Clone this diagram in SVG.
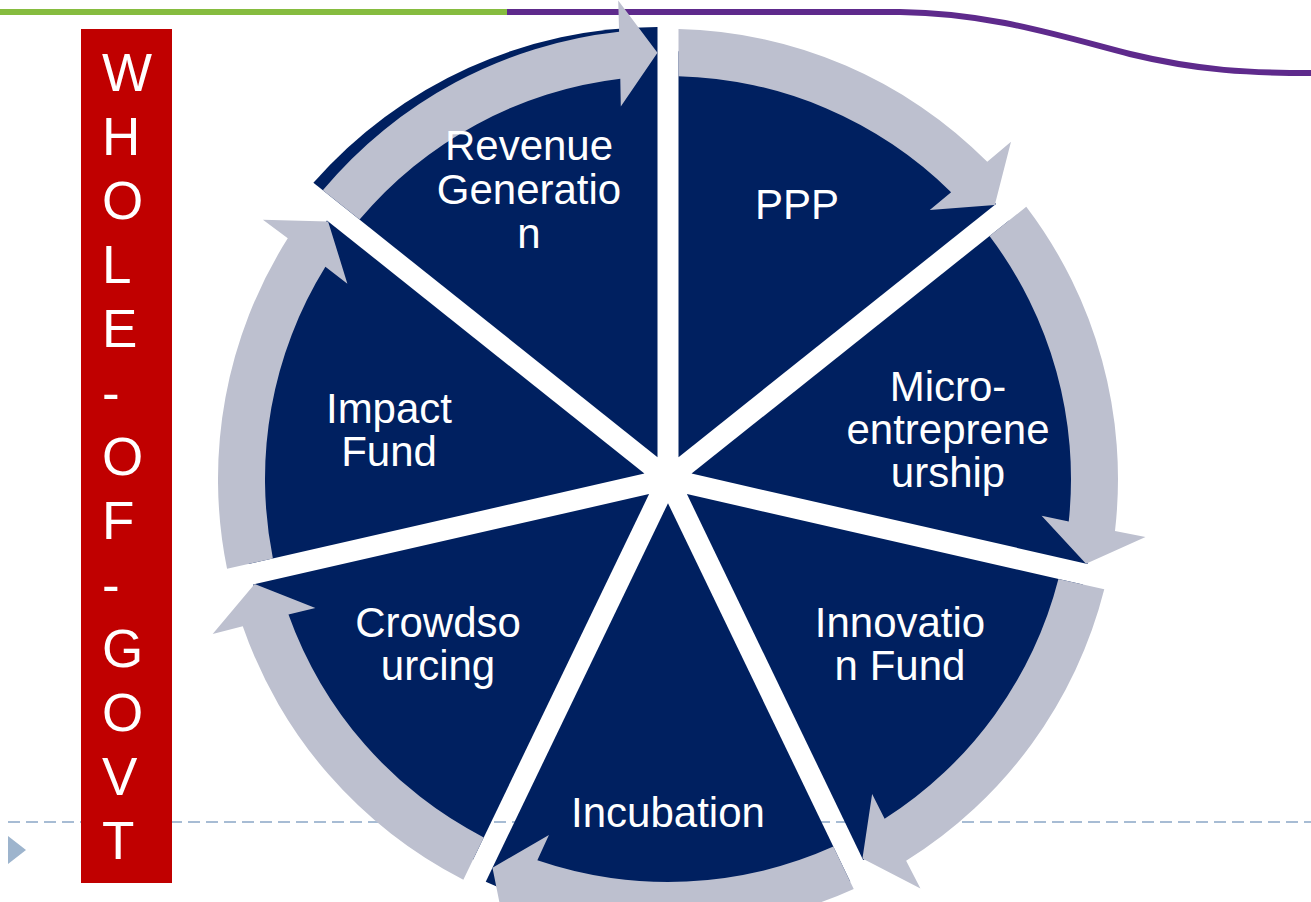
<svg xmlns="http://www.w3.org/2000/svg" width="1311" height="902" viewBox="0 0 1311 902">
<style>
.wedge{fill:#002060}
.arrow{fill:#BDC0CF}
.lbl{font-family:"Liberation Sans",Arial,sans-serif;font-size:42px;fill:#FFFFFF;text-anchor:middle}
.side{font-family:"Liberation Sans",Arial,sans-serif;font-size:53px;fill:#FFFFFF}
</style>
<defs>
<path id="wedge" d="M10.5,-21.8 L10.5,-427.87 A428,428 0 0 1 327.97,-274.98 Z"/>
<path id="wedgeL" d="M10.5,-21.8 L10.5,-441.88 A442,442 0 0 1 338.92,-283.71 Z"/>
<path id="arrow" d="M10.5,-449.88 A450,450 0 0 1 319.26,-317.13 L342.99,-337.22 L326.80,-274.05 L261.77,-269.12 L283.12,-286.80 A403,403 0 0 0 10.5,-402.86 Z"/>
</defs>
<rect x="0" y="0" width="1311" height="902" fill="#FFFFFF"/>
<g id="header">
<line x1="0" y1="12" x2="507" y2="12" stroke="#86BC3F" stroke-width="6"/>
<path d="M507,12 L900,12 C990,13 1060,36 1130,54 C1200,71 1250,73 1311,73" fill="none" stroke="#5E2A8C" stroke-width="6"/>
</g>
<g id="footer">
<line x1="8" y1="822" x2="1311" y2="822" stroke="#A7BCD4" stroke-width="2" stroke-dasharray="12 6"/>
<polygon points="8,836 8,864 26,850" fill="#9DB4CD"/>
</g>
<g id="side-label">
<rect x="81" y="29" width="91" height="854" fill="#C00000"/>
<text class="side" x="102" y="91"><tspan x="102">W</tspan><tspan x="102" dy="64">H</tspan><tspan x="102" dy="64">O</tspan><tspan x="102" dy="64">L</tspan><tspan x="102" dy="64">E</tspan><tspan x="102" dy="64">-</tspan><tspan x="102" dy="64">O</tspan><tspan x="102" dy="64">F</tspan><tspan x="102" dy="64">-</tspan><tspan x="102" dy="64">G</tspan><tspan x="102" dy="64">O</tspan><tspan x="102" dy="64">V</tspan><tspan x="102" dy="64">T</tspan></text>
</g>
<g id="node-ppp"><use href="#wedge" class="wedge" transform="translate(668,479)"/></g>
<g id="node-micro"><use href="#wedge" class="wedge" transform="translate(668,479) rotate(51.4286)"/></g>
<g id="node-innovation"><use href="#wedge" class="wedge" transform="translate(668,479) rotate(102.8571)"/></g>
<g id="node-incubation"><use href="#wedgeL" class="wedge" transform="translate(668,479) rotate(154.2857)"/></g>
<g id="node-crowdsourcing"><use href="#wedge" class="wedge" transform="translate(668,479) rotate(205.7143)"/></g>
<g id="node-impact"><use href="#wedge" class="wedge" transform="translate(668,479) rotate(257.1429)"/></g>
<g id="node-revenue"><path class="wedge" transform="translate(668,479)" d="M-10.5,-21.8 L-10.5,-452 A458,458 0 0 0 -354.6,-296.2 Z"/></g>
<g id="connectors">
<use href="#arrow" class="arrow" transform="translate(668,479)"/>
<use href="#arrow" class="arrow" transform="translate(668,479) rotate(51.4286)"/>
<use href="#arrow" class="arrow" transform="translate(668,479) rotate(102.8571)"/>
<use href="#arrow" class="arrow" transform="translate(668,479) rotate(154.2857)"/>
<use href="#arrow" class="arrow" transform="translate(668,479) rotate(205.7143)"/>
<use href="#arrow" class="arrow" transform="translate(668,479) rotate(257.1429)"/>
<use href="#arrow" class="arrow" transform="translate(668,479) rotate(308.5714)"/>
</g>
<g id="labels">
<g id="label-revenue"><text class="lbl" x="529" y="160">Revenue</text><text class="lbl" x="529" y="204">Generatio</text><text class="lbl" x="529" y="248">n</text></g>
<g id="label-ppp"><text class="lbl" x="797" y="219">PPP</text></g>
<g id="label-micro"><text class="lbl" x="948" y="401">Micro-</text><text class="lbl" x="948" y="444">entreprene</text><text class="lbl" x="948" y="487">urship</text></g>
<g id="label-innovation"><text class="lbl" x="900" y="637">Innovatio</text><text class="lbl" x="900" y="680">n Fund</text></g>
<g id="label-incubation"><text class="lbl" x="668" y="827">Incubation</text></g>
<g id="label-crowdsourcing"><text class="lbl" x="438" y="637">Crowdso</text><text class="lbl" x="438" y="680">urcing</text></g>
<g id="label-impact"><text class="lbl" x="389" y="423">Impact</text><text class="lbl" x="389" y="466">Fund</text></g>
</g>
</svg>
